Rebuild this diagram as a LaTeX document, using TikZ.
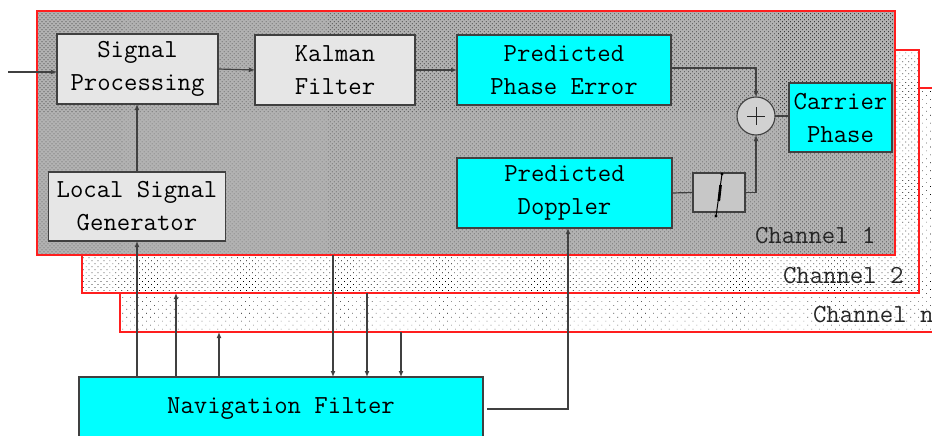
\documentclass[tikz,border=0pt]{standalone}
\usetikzlibrary{arrows.meta,patterns.meta}
\definecolor{aqua}{RGB}{0,255,255}
\definecolor{boxgrey}{RGB}{230,230,230}
\definecolor{edgered}{RGB}{255,30,30}
\begin{document}
\begin{tikzpicture}[x=1pt,y=-1pt,
  font=\ttfamily\fontsize{26}{33}\selectfont,
  every node/.style={inner sep=0pt, outer sep=0pt, align=center},
  greybox/.style={draw=black!75, line width=1.1pt, fill=boxgrey, rectangle},
  cyanbox/.style={draw=black!75, line width=1.1pt, fill=aqua, rectangle},
  chan/.style={rectangle, anchor=north west},
  chanedge/.style={draw=edgered, line width=1.1pt},
  wire/.style={draw=black!75, line width=1.2pt},
  arr/.style={wire, -{Latex[length=6pt,width=5pt]}},
  chlabel/.style={anchor=base west, text=black!85}]
\useasboundingbox (0,0) rectangle (932,436);
\clip (0,0) rectangle (932,436);

% stacked channel planes, back to front
\node[chan, minimum width=840, minimum height=244,
      preaction={fill=white},
      preaction={pattern={Dots[angle=45,distance=5.6pt,radius=0.45pt]}}]
      (chn) at (120,88) {};
\draw[chanedge] (chn.north west) rectangle (chn.south east);
\node[chan, minimum width=837, minimum height=243,
      preaction={fill=white},
      preaction={pattern={Dots[angle=45,distance=4.2pt,radius=0.5pt]}}]
      (ch2) at (82,50) {};
\draw[chanedge] (ch2.north west) rectangle (ch2.south east);
\node[chan, minimum width=858, minimum height=244,
      preaction={fill=black!30},
      preaction={pattern={Dots[angle=45,distance=2.83pt,radius=0.45pt]}}]
      (ch1) at (37,11) {};
\draw[chanedge] (ch1.north west) rectangle (ch1.south east);

\node[chlabel] (lab1) at (755,243) {Channel 1};
\node[chlabel] (lab2) at (783,283) {Channel 2};
\node[chlabel] (labn) at (813,322) {Channel n};

% processing blocks of one channel
\node[greybox, minimum width=161, minimum height=70] (sp)  at (137.5,69)  {Signal\\Processing};
\node[greybox, minimum width=160, minimum height=70] (kf)  at (335,70)    {Kalman\\Filter};
\node[cyanbox, minimum width=214, minimum height=70] (ppe) at (564,70)    {Predicted\\Phase Error};
\node[greybox, minimum width=177, minimum height=69] (lsg) at (137,206.5) {Local Signal\\Generator};
\node[cyanbox, minimum width=215, minimum height=70] (pd)  at (564.5,193) {Predicted\\Doppler};
\node[cyanbox, minimum width=103, minimum height=69] (cp)  at (840.5,117.5) {Carrier\\Phase};
\node[circle, draw=black!75, line width=1.1pt, fill=black!18, minimum size=38] (sum) at (756,116) {};
\draw[black!85, line width=0.9pt] (sum.center) ++(-9,0) -- ++(18,0)
      (sum.center) ++(0,-9) -- ++(0,18);
\node[rectangle, draw=black!75, line width=1.1pt, fill=black!22, minimum width=52, minimum height=39] (int) at (719,192.5) {};
\draw[black, line width=1pt] (722,174) -- (716,216);
\draw[black, line width=2.6pt] (720.6,185) -- (718.8,201);
\fill[black] (722,174) circle (1.6) (716,216) circle (1.6);

% navigation filter
\node[cyanbox, minimum width=404, minimum height=64, anchor=north] (nav) at (281,377) {Navigation Filter};

% connectors inside the channel
\coordinate (in) at (8,72);
\draw[arr] (in) -- (in -| sp.west);
\draw[arr] (sp.east) -- (kf.west);
\draw[arr] (kf.east) -- (ppe.west);
\draw[arr] ([yshift=2pt]ppe.east) -| (sum.north);
\draw[wire] (pd.east) -- (int.west);
\draw[arr] (int.east) -| (sum.south);
\draw[wire] (sum.east) -- (sum.east -| cp.west);
\draw[arr] (lsg.north) -- (lsg.north |- sp.south);

% links between the navigation filter and the channels
\coordinate (u2) at (176,0);
\coordinate (un) at (219,0);
\coordinate (d1) at (333,0);
\coordinate (d2) at (367,0);
\coordinate (dn) at (401,0);
\coordinate (nd) at (568,0);
\draw[arr] (lsg.south |- nav.north) -- (lsg.south);
\draw[arr] (u2 |- nav.north) -- (u2 |- ch2.south);
\draw[arr] (un |- nav.north) -- (un |- chn.south);
\draw[arr] (d1 |- ch1.south) -- (d1 |- nav.north);
\draw[arr] (d2 |- ch2.south) -- (d2 |- nav.north);
\draw[arr] (dn |- chn.south) -- (dn |- nav.north);
\draw[arr] ([xshift=4pt]nav.east) -| (nd |- pd.south);
\end{tikzpicture}
\end{document}
